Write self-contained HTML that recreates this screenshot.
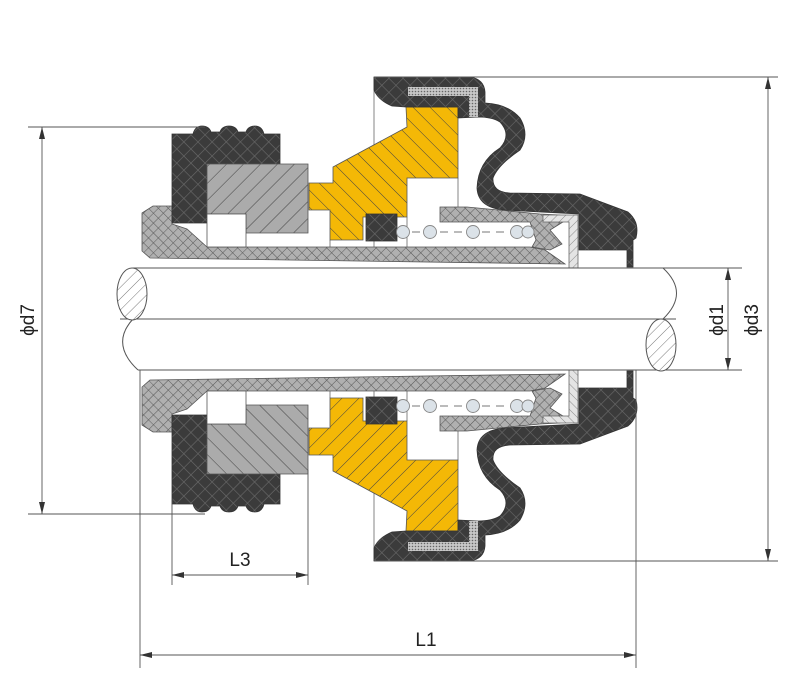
<!DOCTYPE html>
<html><head><meta charset="utf-8"><style>html,body{margin:0;padding:0;background:#fff}svg{display:block}</style></head>
<body>
<svg width="800" height="681" viewBox="0 0 800 681" xmlns="http://www.w3.org/2000/svg">
<defs>
<pattern id="dk" width="10" height="10" patternUnits="userSpaceOnUse" patternTransform="rotate(45)">
<rect width="10" height="10" fill="#3b3b3b"/><path d="M0 0H10M0 0V10" stroke="#6a6a6a" stroke-width="1.2"/></pattern>
<pattern id="gx" width="7" height="7" patternUnits="userSpaceOnUse" patternTransform="rotate(45)">
<rect width="7" height="7" fill="#b0b0b0"/><path d="M0 0H7M0 0V7" stroke="#555" stroke-width="0.9"/></pattern>
<pattern id="gh" width="12" height="12" patternUnits="userSpaceOnUse" patternTransform="rotate(45)">
<rect width="12" height="12" fill="#ababab"/><path d="M0 0V12" stroke="#444" stroke-width="1"/></pattern>
<pattern id="yh" width="12" height="12" patternUnits="userSpaceOnUse" patternTransform="rotate(-45)">
<rect width="12" height="12" fill="#f4b806"/><path d="M0 0V12" stroke="#444" stroke-width="1"/></pattern>
<pattern id="lh" width="6" height="6" patternUnits="userSpaceOnUse" patternTransform="rotate(45)">
<rect width="6" height="6" fill="#e4e4e4"/><path d="M0 0V6" stroke="#777" stroke-width="0.8"/></pattern>
<pattern id="sp" width="3" height="3" patternUnits="userSpaceOnUse">
<rect width="3" height="3" fill="#c8c8c8"/><circle cx="1.5" cy="1.5" r="0.8" fill="#666"/></pattern>
<pattern id="sh" width="8" height="8" patternUnits="userSpaceOnUse" patternTransform="rotate(45)">
<rect width="8" height="8" fill="#fff"/><path d="M0 0V8" stroke="#555" stroke-width="0.8"/></pattern>
<g id="half">
  <line x1="374" y1="77" x2="374" y2="247" stroke="#666" stroke-width="0.8"/>
  <line x1="458" y1="178" x2="458" y2="207" stroke="#666" stroke-width="0.8"/>
  <line x1="407" y1="217" x2="407" y2="247" stroke="#666" stroke-width="0.8"/>
  <line x1="330" y1="240" x2="330" y2="247" stroke="#666" stroke-width="0.8"/>
  <path d="M142,213 L153,206 L172,206 L172,224 L187,229 L207,247 L530,247 L545,250 L565,264 L150,258 L142,251 Z" fill="url(#gx)" stroke="#555" stroke-width="0.8"/>
  <path d="M172,134 L193,134 Q195,126 202,126 Q209,126 211,132 L220,132 Q222,126 229,126 Q236,126 238,132 L246,132 Q248,126 255,126 Q262,126 264,134 L280,134 L280,164 L207,164 L207,223 L172,223 Z" fill="url(#dk)" stroke="#333" stroke-width="0.8"/>
  <path d="M207,164 L308,164 L308,233 L246,233 L246,214 L207,214 Z" fill="url(#gh)" stroke="#555" stroke-width="0.8"/>
  <rect x="207" y="214" width="39" height="33" fill="#fff" stroke="#555" stroke-width="0.8"/>
  <path d="M406,107 L458,107 L458,178 L407,178 L407,217 L363,217 L363,240 L330,240 L330,210 L309,210 L309,183 L333,183 L333,167 L407,127 Z" fill="url(#yh)" stroke="#555" stroke-width="0.8"/>
  <rect x="366" y="214" width="31" height="27" fill="url(#dk)" stroke="#333" stroke-width="0.8"/>
  <path d="M440,207 L467,207 L540,214 L560,215 L563,222 L550,230 L562,244 L550,250 L532,247 L536,240 L530,222 L440,222 Z" fill="url(#gx)" stroke="#555" stroke-width="0.8"/>
  <path d="M543,215 L578,215 L578,268 L569,268 L569,222 L543,222 Z" fill="url(#lh)" stroke="#666" stroke-width="0.8"/>
  <path d="M374,77 L470,77 Q484,79 485,92 L485,103 Q508,104 520,118 Q530,135 520,150 Q498,165 493,178 Q492,192 510,193 L580,194 L628,212 Q640,222 636,238 L633,240 L633,267 L627,267 L627,250 L579,250 L579,214 L540,212 L505,210 Q478,208 477,188 Q478,162 500,148 Q512,135 500,122 Q492,117 478,117 L458,118 L458,107 L406,107 L392,106 Q378,100 374,90 Z" fill="url(#dk)" stroke="#333" stroke-width="0.8"/>
  <path d="M408,87 L478,87 L478,117 L469,117 L469,96 L408,96 Z" fill="url(#sp)"/>
  <line x1="398" y1="232" x2="532" y2="232" stroke="#777" stroke-width="1" stroke-dasharray="8,6"/>
  <g fill="#dbe2e8" stroke="#888" stroke-width="0.9">
    <circle cx="403" cy="232" r="6.5"/><circle cx="430" cy="232" r="6.5"/><circle cx="473" cy="232" r="6.5"/><circle cx="517" cy="232" r="6.5"/><circle cx="528" cy="232" r="6"/>
  </g>
</g>
</defs>
<rect width="800" height="681" fill="#fff"/>
<use href="#half"/>
<use href="#half" transform="matrix(1,0,0,-1,0,638)"/>
<g stroke="#555" stroke-width="1" fill="none">
  <line x1="133" y1="268" x2="742" y2="268"/>
  <line x1="138" y1="370" x2="742" y2="370"/>
  <line x1="120" y1="319" x2="676" y2="319"/>
  <path d="M133,319 Q110,344 138,370"/>
  <path d="M663,268 Q690,293 663,319"/>
</g>
<ellipse cx="132" cy="294" rx="15" ry="26" fill="url(#sh)" stroke="#555"/>
<ellipse cx="661" cy="345" rx="15" ry="26" fill="url(#sh)" stroke="#555"/>
<g stroke="#555" stroke-width="0.9" fill="none">
  <line x1="28" y1="127" x2="205" y2="127"/>
  <line x1="28" y1="514" x2="205" y2="514"/>
  <line x1="42" y1="127" x2="42" y2="514"/>
  <line x1="374" y1="77" x2="778" y2="77"/>
  <line x1="374" y1="561" x2="778" y2="561"/>
  <line x1="768" y1="77" x2="768" y2="561"/>
  <line x1="728" y1="268" x2="728" y2="370"/>
  <line x1="140" y1="370" x2="140" y2="668"/>
  <line x1="636" y1="370" x2="636" y2="668"/>
  <line x1="172" y1="500" x2="172" y2="585"/>
  <line x1="308" y1="470" x2="308" y2="585"/>
  <line x1="172" y1="575" x2="308" y2="575"/>
  <line x1="140" y1="655" x2="636" y2="655"/>
</g>
<g fill="#333">
  <path d="M42,127 l-3,12 h6z"/><path d="M42,514 l-3,-12 h6z"/>
  <path d="M768,77 l-3,12 h6z"/><path d="M768,561 l-3,-12 h6z"/>
  <path d="M728,268 l-3,12 h6z"/><path d="M728,370 l-3,-12 h6z"/>
  <path d="M172,575 l12,-3 v6z"/><path d="M308,575 l-12,-3 v6z"/>
  <path d="M140,655 l12,-3 v6z"/><path d="M636,655 l-12,-3 v6z"/>
</g>
<g font-family="Liberation Sans, DejaVu Sans, sans-serif" font-size="19" fill="#222">
  <text transform="translate(34,320) rotate(-90)" text-anchor="middle">ϕd7</text>
  <text transform="translate(723,320) rotate(-90)" text-anchor="middle">ϕd1</text>
  <text transform="translate(758,320) rotate(-90)" text-anchor="middle">ϕd3</text>
  <text x="240" y="566" text-anchor="middle">L3</text>
  <text x="426" y="646" text-anchor="middle">L1</text>
</g>
</svg>
</body></html>
